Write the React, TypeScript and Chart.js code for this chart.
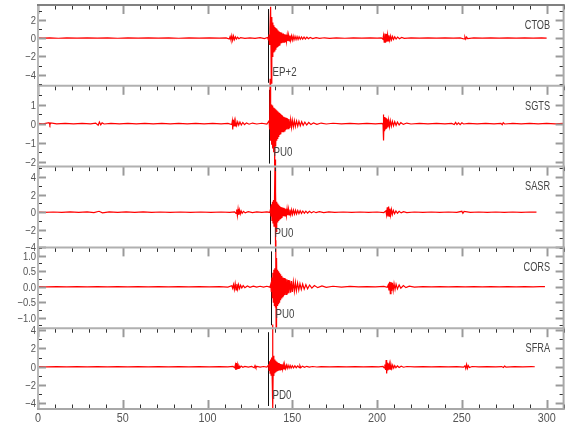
import { useEffect, useRef } from "react";
import { Chart, registerables } from "chart.js";

Chart.register(...registerables);

// ---------- data ----------
const stations = ["CTOB", "SGTS", "SASR", "CORS", "SFRA"];
const pickLabels = ["EP+2", "PU0", "PU0", "PU0", "PD0"];
const pickTimes = [135.8, 136.2, 136.8, 137.2, 135.8];
const yMins = [-5.2, -2.25, -4.02, -1.34, -4.6];
const yMaxs = [3.6, 1.98, 5.2, 1.27, 4.2];
const yMajorSteps = [2, 1, 2, 0.5, 2];
const xTickLabels = ["0", "50", "100", "150", "200", "250", "300"];
const xTickValues = [0, 50, 100, 150, 200, 250, 300];
const xMin = 0;
const xMax = 310;

const ctob: [number, number][] = [
  [0, 0.01], [3, -0.015], [7, 0.015], [12, -0.02], [17, 0.015], [23, -0.015], [29, 0.02], [35, -0.015], [41, 0.015], [47, -0.02],
  [53, 0.015], [59, -0.015], [65, 0.02], [71, -0.015], [77, 0.015], [83, -0.02], [89, 0.015], [95, -0.015], [101, 0.02], [107, -0.015], [111, 0.02],
  [112.8, -0.1], [113.3, 0.16], [113.8, -0.22], [114.3, 0.27], [114.8, -0.25], [115.3, 0.22], [115.8, -0.18], [116.4, 0.14], [117, -0.11],
  [117.7, 0.09], [118.5, -0.07], [119.5, 0.05], [122, -0.03], [125, 0.03], [128, -0.03], [131, 0.04], [133.5, -0.05], [135.4, 0.06],
  [135.9, -0.2], [136.2, 0.4], [136.5, -0.7], [136.8, 1.0], [137.2, 3.4], [137.6, -4.9], [137.9, 2.3], [138.2, -2.0], [138.5, 1.7],
  [138.8, -1.5], [139.1, 1.4], [139.4, -1.4], [139.7, 1.2], [140.0, -1.2], [140.3, 1.1], [140.6, -1.0], [140.9, 1.0], [141.2, -0.9],
  [141.5, 0.85], [141.8, -0.8], [142.1, 0.75], [142.4, -0.75], [142.7, 0.65], [143.0, -0.6], [143.35, 0.6], [143.7, -0.55], [144.05, 0.5],
  [144.4, -0.5], [144.75, 0.48], [145.1, -0.45], [145.45, 0.42], [145.8, -0.4], [146.2, 0.38], [146.6, -0.36], [147.0, 0.34], [147.4, -0.32],
  [147.8, 0.3], [148.2, -0.3], [148.6, 0.27], [149.0, -0.26], [149.5, 0.24], [150.0, -0.22], [150.5, 0.21], [151.0, -0.2], [151.6, 0.18],
  [152.2, -0.17], [152.8, 0.16], [153.4, -0.15], [154.0, 0.14], [154.7, -0.13], [155.4, 0.12], [156.1, -0.11], [156.9, 0.1], [157.7, -0.1],
  [158.6, 0.09], [159.5, -0.08], [160.5, 0.07], [162, -0.06], [164, 0.05], [166, -0.04], [169, 0.03], [172, -0.025], [176, 0.02], [181, -0.02],
  [186, 0.015], [191, -0.015], [196, 0.015], [200, -0.015], [202.5, 0.03],
  [203.4, -0.12], [203.8, 0.3], [204.2, -0.45], [204.6, 0.5], [205.0, -0.5], [205.4, 0.45], [205.8, -0.4], [206.2, 0.36], [206.6, -0.32],
  [207.0, 0.3], [207.5, -0.26], [208.0, 0.22], [208.5, -0.2], [209.1, 0.17], [209.7, -0.15], [210.4, 0.13], [211.2, -0.11], [212.1, 0.1],
  [213.2, -0.08], [214.5, 0.06], [216, -0.04], [220, 0.02], [225, -0.015], [230, 0.015], [235, -0.015], [240, 0.015], [245, -0.015], [249, 0.02],
  [251.3, -0.1], [251.8, 0.13], [252.3, -0.12], [252.8, 0.1], [253.4, -0.07], [257, 0.02], [262, -0.015], [267, 0.015], [272, -0.015],
  [277, 0.015], [282, -0.015], [287, 0.015], [292, -0.015], [297, 0.015], [300, 0],
];

const sgts: [number, number][] = [
  [0, 0.01], [3, -0.01], [6.5, 0.05], [7, -0.07], [7.5, 0.04], [11, -0.01], [16, 0.01], [21, -0.01], [26, 0.01], [31, -0.01], [34, 0.03],
  [35.5, -0.08], [36.2, 0.08], [37, -0.06], [37.8, 0.04], [39, -0.02], [43, 0.01], [48, -0.01], [53, 0.01], [58, -0.01], [63, 0.01],
  [68, -0.01], [73, 0.01], [78, -0.01], [83, 0.01], [88, -0.01], [93, 0.01], [98, -0.01], [103, 0.01], [108, -0.01], [112, 0.01],
  [114.3, -0.05], [114.6, 0.12], [114.85, -0.3], [115.1, 0.2], [115.4, -0.15], [115.8, 0.14], [116.2, -0.12], [116.7, 0.11], [117.2, -0.1],
  [117.8, 0.09], [118.4, -0.08], [119.1, 0.08], [119.9, -0.07], [120.8, 0.06], [121.8, -0.05], [123, 0.04], [124.5, -0.03], [126.5, 0.03],
  [129, -0.02], [132, 0.02], [135, -0.02],
  [136.3, 0.15], [136.6, -0.3], [136.9, 2.35], [137.2, -0.9], [137.5, 1.0], [137.8, -1.1], [138.1, 0.95], [138.4, -1.3], [138.7, 0.85],
  [139.0, -1.5], [139.3, 0.8], [139.6, -2.2], [139.9, 0.75], [140.2, -1.2], [140.5, 0.7], [140.8, -0.9], [141.1, 0.65], [141.4, -0.8],
  [141.7, 0.6], [142.0, -0.7], [142.3, 0.55], [142.6, -0.6], [142.9, 0.5], [143.2, -0.55], [143.55, 0.45], [143.9, -0.45], [144.25, 0.4],
  [144.6, -0.42], [144.95, 0.36], [145.3, -0.38], [145.65, 0.33], [146.0, -0.33], [146.4, 0.3], [146.8, -0.3], [147.2, 0.27], [147.6, -0.26],
  [148.0, 0.24], [148.5, -0.23], [149.0, 0.21], [149.5, -0.2], [150.0, 0.18], [150.6, -0.17], [151.2, 0.16], [151.8, -0.15], [152.5, 0.14],
  [153.2, -0.13], [153.9, 0.12], [154.7, -0.11], [155.5, 0.1], [156.4, -0.09], [157.4, 0.08], [158.5, -0.07], [159.7, 0.06], [161, -0.05],
  [162.5, 0.04], [164.5, -0.04], [167, 0.03], [170, -0.02], [174, 0.02], [179, -0.01], [184, 0.01], [189, -0.01], [194, 0.01], [199, -0.01],
  [203, 0.01],
  [203.5, -0.05], [203.7, 0.48], [203.9, -0.88], [204.15, 0.35], [204.4, -0.4], [204.7, 0.32], [205.0, -0.3], [205.3, 0.28], [205.6, -0.26],
  [206.0, 0.22], [206.4, -0.2], [206.8, 0.18], [207.3, -0.16], [207.8, 0.15], [208.4, -0.13], [209.0, 0.12], [209.7, -0.11], [210.4, 0.1],
  [211.2, -0.09], [212.0, 0.08], [213.0, -0.07], [214, 0.05], [215.5, -0.04], [217.5, 0.03], [220, -0.02], [225, 0.01], [230, -0.01],
  [235, 0.01], [240, -0.01], [244, 0.01], [245.5, -0.05], [246.3, 0.06], [247.1, -0.05], [248, 0.04], [249, -0.05], [250, 0.04], [251, -0.02],
  [254, 0.01], [259, -0.01], [264, 0.01], [269, -0.01], [273, 0.01], [273.8, -0.06], [274.4, 0.05], [275.2, -0.02], [280, 0.01], [285, -0.01],
  [290, 0.01], [295, -0.01], [300, 0.01], [305, -0.01], [310, 0.01],
];

const sasr: [number, number][] = [
  [0, 0.02], [4, -0.02], [9, 0.02], [14, -0.03], [19, 0.03], [24, -0.03], [29, 0.04], [33, -0.06], [36, 0.1], [38, -0.07], [42, 0.04],
  [47, -0.03], [52, 0.03], [57, -0.03], [62, 0.03], [67, -0.02], [72, 0.02], [78, -0.02], [84, 0.02], [90, -0.02], [96, 0.02], [102, -0.02],
  [108, 0.02], [113, -0.02], [116, 0.04],
  [116.8, -0.15], [117.2, 0.3], [117.6, -0.38], [118.0, 0.35], [118.4, -0.3], [118.8, 0.25], [119.3, -0.2], [119.8, 0.16], [120.4, -0.12],
  [121.2, 0.1], [122.2, -0.08], [124, 0.05], [126.5, -0.04], [129, 0.03], [132, -0.03], [135, 0.03], [136.8, -0.03],
  [137.1, 0.3], [137.4, -0.5], [137.7, 0.9], [138.0, -1.0], [138.3, 1.2], [138.6, -1.3], [138.9, 1.4], [139.2, -1.6], [139.5, 1.7],
  [139.8, 6.0], [140.0, -4.1], [140.2, 2.35], [140.5, -2.2], [140.8, 1.2], [141.1, -1.1], [141.4, 1.0], [141.7, -0.95], [142.0, 0.85],
  [142.3, -0.8], [142.6, 0.7], [142.9, -0.7], [143.2, 0.6], [143.55, -0.6], [143.9, 0.55], [144.25, -0.5], [144.6, 0.5], [144.95, -0.45],
  [145.3, 0.45], [145.7, -0.42], [146.1, 0.4], [146.5, -0.38], [146.9, 0.36], [147.3, -0.35], [147.7, 0.33], [148.1, -0.32], [148.6, 0.3],
  [149.1, -0.28], [149.6, 0.27], [150.1, -0.25], [150.7, 0.24], [151.3, -0.22], [151.9, 0.21], [152.5, -0.2], [153.2, 0.18], [153.9, -0.17],
  [154.6, 0.16], [155.4, -0.14], [156.2, 0.13], [157.1, -0.12], [158, 0.11], [159, -0.1], [160.1, 0.09], [161.3, -0.08], [162.6, 0.07],
  [164, -0.06], [166, 0.05], [168.5, -0.04], [171.5, 0.03], [175, -0.03], [180, 0.02], [185, -0.02], [190, 0.02], [195, -0.02], [200, 0.02],
  [204, -0.04],
  [205.2, 0.15], [205.6, -0.3], [206.0, 0.55], [206.4, -0.5], [206.8, 0.64], [207.2, -0.45], [207.6, 0.4], [208.0, -0.35], [208.5, 0.3],
  [209.0, -0.25], [209.6, 0.2], [210.3, -0.17], [211.1, 0.14], [212, -0.12], [213, 0.1], [214.2, -0.08], [215.6, 0.06], [217.5, -0.04],
  [222, 0.02], [227, -0.02], [232, 0.02], [237, -0.02], [242, 0.02], [247, -0.03], [250, 0.1], [250.6, -0.12], [251.3, 0.08], [255, -0.02],
  [260, 0.02], [265, -0.02], [270, 0.02], [275, -0.02], [280, 0.02], [285, -0.02], [290, 0.02], [294, 0],
];

const cors: [number, number][] = [
  [0, 0.004], [5, -0.006], [11, 0.006], [17, -0.006], [23, 0.006], [29, -0.006], [35, 0.006], [41, -0.006], [47, 0.006], [53, -0.006],
  [59, 0.006], [65, -0.006], [71, 0.006], [77, -0.006], [83, 0.006], [89, -0.006], [95, 0.006], [101, -0.006], [107, 0.006], [112, -0.01],
  [114.3, 0.03], [114.8, -0.05], [115.3, 0.07], [115.8, -0.09], [116.3, 0.1], [116.8, -0.1], [117.3, 0.09], [117.8, -0.08], [118.3, 0.07],
  [118.9, -0.06], [119.5, 0.05], [120.2, -0.04], [121, 0.035], [122, -0.03], [123.5, 0.025], [125, -0.02], [127, 0.02], [129, -0.015],
  [131, 0.015], [133, -0.015], [135, 0.015], [136.8, -0.015],
  [137.3, 0.08], [137.6, -0.15], [137.9, 0.3], [138.2, -0.35], [138.5, 0.45], [138.8, -0.5], [139.1, 0.55], [139.4, -0.6], [139.7, 0.6],
  [140.0, -0.65], [140.25, 1.5], [140.45, -1.32], [140.7, 0.93], [141.0, -0.6], [141.3, 0.55], [141.6, -0.55], [141.9, 0.5], [142.2, -0.5],
  [142.5, 0.45], [142.8, -0.42], [143.1, 0.4], [143.45, -0.36], [143.8, 0.35], [144.15, -0.32], [144.5, 0.3], [144.85, -0.3], [145.2, 0.28],
  [145.6, -0.27], [146.0, 0.26], [146.4, -0.25], [146.8, 0.24], [147.2, -0.23], [147.6, 0.22], [148.0, -0.21], [148.5, 0.2], [149.0, -0.19],
  [149.5, 0.18], [150.0, -0.17], [150.6, 0.16], [151.2, -0.15], [151.8, 0.14], [152.4, -0.13], [153.1, 0.12], [153.8, -0.11], [154.5, 0.1],
  [155.3, -0.09], [156.1, 0.085], [157, -0.08], [158, 0.07], [159, -0.065], [160.2, 0.055], [161.5, -0.045], [163, 0.04], [165, -0.03],
  [167.5, 0.025], [170, -0.02], [174, 0.015], [179, -0.01], [184, 0.008], [189, -0.006], [194, 0.006], [199, -0.006], [204, 0.008], [206, -0.02],
  [206.6, 0.06], [207.0, -0.12], [207.4, 0.16], [207.8, -0.22], [208.2, 0.15], [208.6, -0.14], [209.0, 0.13], [209.5, -0.12], [210.0, 0.1],
  [210.6, -0.09], [211.2, 0.08], [212, -0.07], [213, 0.06], [214, -0.05], [215.5, 0.04], [217, -0.03], [219, 0.02], [222, -0.01],
  [227, 0.006], [232, -0.006], [237, 0.006], [242, -0.006], [247, 0.006], [252, -0.006], [257, 0.006], [262, -0.006], [267, 0.006], [272, -0.006],
  [277, 0.006], [282, -0.006], [287, 0.006], [292, -0.006], [296, 0.006], [299, 0],
];

const sfra: [number, number][] = [
  [0, 0.01], [5, -0.015], [11, 0.015], [17, -0.015], [23, 0.015], [29, -0.015], [35, 0.015], [41, -0.015], [47, 0.015], [53, -0.015], [59, 0.015],
  [65, -0.015], [71, 0.015], [77, -0.015], [83, 0.015], [89, -0.015], [95, 0.015], [101, -0.015], [107, 0.015], [112, -0.015], [115, 0.03],
  [116, -0.1], [116.4, 0.2], [116.7, -0.35], [117.0, 0.4], [117.3, -0.3], [117.6, 0.22], [118, -0.18], [118.5, 0.14], [119.1, -0.1],
  [119.8, 0.08], [120.8, -0.06], [122, 0.04], [124, -0.03], [126, 0.03], [127.5, -0.1], [128, 0.12], [128.5, -0.1], [129.2, 0.05],
  [131, -0.03], [133, 0.03], [135, -0.03],
  [136.0, 0.2], [136.3, -0.4], [136.6, 0.6], [136.9, -0.7], [137.2, 0.8], [137.5, -0.9], [137.8, 1.0], [138.1, -1.0], [138.35, 4.6],
  [138.55, -4.5], [138.8, 1.2], [139.1, -1.0], [139.4, 0.8], [139.7, -0.7], [140.0, 0.65], [140.3, -0.6], [140.6, 0.55], [140.9, -0.5],
  [141.2, 0.45], [141.5, -0.45], [141.8, 0.4], [142.1, -0.4], [142.45, 0.35], [142.8, -0.33], [143.15, 0.3], [143.5, -0.3], [143.9, 0.27],
  [144.3, -0.25], [144.7, 0.24], [145.1, -0.22], [145.5, 0.21], [146, -0.2], [146.5, 0.18], [147, -0.17], [147.5, 0.16], [148.1, -0.15],
  [148.7, 0.14], [149.3, -0.13], [150, 0.12], [150.7, -0.11], [151.5, 0.1], [152.3, -0.1], [153.2, 0.09], [154.1, -0.09], [154.5, 0.12],
  [155, -0.1], [156, 0.07], [157.2, -0.06], [158.5, 0.05], [160, -0.04], [162, 0.03], [164.5, -0.025], [167, 0.02], [172, -0.015], [177, 0.015],
  [182, -0.015], [187, 0.015], [192, -0.015], [197, 0.015], [201, -0.015], [203.5, 0.03],
  [204.2, -0.12], [204.6, 0.25], [205.0, -0.35], [205.35, 0.73], [205.65, -0.73], [205.95, 0.45], [206.3, -0.4], [206.65, 0.35], [207.0, -0.32],
  [207.4, 0.3], [207.8, -0.27], [208.2, 0.24], [208.7, -0.2], [209.2, 0.18], [209.8, -0.15], [210.4, 0.12], [211.1, -0.1], [212, 0.09],
  [213, -0.08], [214.2, 0.06], [215.6, -0.05], [217.5, 0.03], [222, -0.015], [227, 0.015], [232, -0.015], [237, 0.015], [242, -0.015], [247, 0.015],
  [251, -0.04], [251.8, 0.1], [252.3, -0.2], [252.8, 0.25], [253.3, -0.18], [253.8, 0.12], [254.5, -0.08], [256, 0.03], [260, -0.015],
  [265, 0.015], [270, -0.015], [273.5, 0.02], [274.5, -0.08], [275.2, 0.07], [276, -0.03], [281, 0.015], [286, -0.015], [291, 0.015], [293, 0],
];

const traces = [ctob, sgts, sasr, cors, sfra];

// ---------- layout / style ----------
const W = 580;
const H = 440;
const PLOT_LEFT = 38;
const PLOT_RIGHT = 563.6;
const PLOT_TOP = 5;
const PLOT_BOTTOM = 409;
const PANEL_H = (PLOT_BOTTOM - PLOT_TOP) / stations.length;
const FONT = '"Liberation Sans", Arial, sans-serif';
const TEXT_COLOR = "#555";

function drawText(
  ctx: CanvasRenderingContext2D,
  s: string,
  x: number,
  y: number,
  align: CanvasTextAlign,
  size: number,
  sx: number,
  color: string
) {
  ctx.save();
  ctx.font = `${size}px ${FONT}`;
  ctx.fillStyle = color;
  ctx.textAlign = align;
  ctx.textBaseline = "middle";
  ctx.translate(x, y);
  ctx.scale(sx, 1);
  ctx.fillText(s, 0, 0);
  ctx.restore();
}

function seg(ctx: CanvasRenderingContext2D, x1: number, y1: number, x2: number, y2: number, color: string, w: number) {
  ctx.strokeStyle = color;
  ctx.lineWidth = w;
  ctx.beginPath();
  ctx.moveTo(x1, y1);
  ctx.lineTo(x2, y2);
  ctx.stroke();
}

function fmt(v: number, step: number) {
  const s = step < 1 ? Math.abs(v).toFixed(1) : String(Math.abs(Math.round(v)));
  return (v < -1e-9 ? "\u2212" : "") + s;
}

function panelPlugin(i: number) {
  return {
    id: "panel" + i,
    beforeDatasetsDraw(chart: any) {
      const ctx: CanvasRenderingContext2D = chart.ctx;
      const xs = chart.scales.x;
      const { top, bottom } = chart.chartArea;
      const px = Math.round(xs.getPixelForValue(pickTimes[i])) + 0.5;
      ctx.save();
      seg(ctx, px, top + 4, px, bottom - 3, "#111", 1);
      ctx.restore();
    },
    afterDraw(chart: any) {
      const ctx: CanvasRenderingContext2D = chart.ctx;
      const xs = chart.scales.x;
      const ys = chart.scales.y;
      const { left, right, top, bottom } = chart.chartArea;
      ctx.save();
      const last = i === stations.length - 1;

      // x ticks (top of each panel, bottom of the last one)
      for (let t = xMin; t <= xMax + 1e-6; t += 10) {
        const x = Math.round(xs.getPixelForValue(t)) + 0.5;
        const major = Math.abs(t % 50) < 1e-6;
        const len = major ? 9 : 4.5;
        const col = major ? "#9a9a9a" : "#333";
        const w = major ? 2 : 1;
        seg(ctx, x, top, x, top + len, col, w);
        if (last) seg(ctx, x, bottom, x, bottom - len, col, w);
      }

      // y ticks (left and right)
      const yStep = yMajorSteps[i];
      const minor = yStep / 2;
      const start = Math.ceil((ys.min - 1e-9) / minor) * minor;
      for (let v = start; v <= ys.max + 1e-9; v += minor) {
        const y = Math.round(ys.getPixelForValue(v)) + 0.5;
        const k = v / yStep;
        const major = Math.abs(k - Math.round(k)) < 1e-6;
        const len = major ? 8 : 4;
        const col = major ? "#9a9a9a" : "#333";
        seg(ctx, left, y, left + len, y, col, major ? 2 : 1);
        seg(ctx, right, y, right - len, y, col, major ? 2 : 1);
        if (major) drawText(ctx, fmt(v, yStep), left - 2, y, "right", 11.5, 0.82, TEXT_COLOR);
      }

      // frame
      seg(ctx, left, top - 1, left, bottom + 1, "#b8b8b8", 2);
      seg(ctx, right, top - 1, right, bottom + 1, "#a8a8a8", 2);
      seg(ctx, left - 1, top, right + 1, top, i === 0 ? "#808080" : "#b0b0b0", 2);
      if (last) {
        seg(ctx, left - 1, bottom, right + 1, bottom, "#a8a8a8", 2);
        xTickValues.forEach((v, k) => {
          drawText(ctx, xTickLabels[k], xs.getPixelForValue(v), bottom + 9.5, "center", 12, 0.9, TEXT_COLOR);
        });
      }

      // pick label
      const px = Math.round(xs.getPixelForValue(pickTimes[i])) + 0.5;
      drawText(ctx, pickLabels[i], px + 4, bottom - 14, "left", 13.5, 0.72, "#444");
      // station name
      drawText(ctx, stations[i], right - 13.5, top + 20, "right", 13.5, 0.68, "#444");
      ctx.restore();
    },
  };
}

function makeConfig(i: number): any {
  const top = PLOT_TOP + i * PANEL_H;
  const bottom = top + PANEL_H;
  return {
    type: "line",
    data: {
      datasets: [
        {
          data: traces[i].map(([x, y]) => ({ x, y })),
          borderColor: "#ff0000",
          borderWidth: 1.2,
          pointRadius: 0,
          tension: 0,
          fill: false,
          clip: false,
        },
      ],
    },
    options: {
      animation: false,
      responsive: false,
      events: [],
      layout: { padding: { left: PLOT_LEFT, right: W - PLOT_RIGHT, top, bottom: H - bottom } },
      plugins: { legend: { display: false }, tooltip: { enabled: false } },
      scales: {
        x: { type: "linear", min: xMin, max: xMax, display: false },
        y: { type: "linear", min: yMins[i], max: yMaxs[i], display: false },
      },
    },
    plugins: [panelPlugin(i)],
  };
}

export default function App() {
  const refs = useRef<(HTMLCanvasElement | null)[]>([]);
  useEffect(() => {
    const charts = stations.map((_, i) => new Chart(refs.current[i] as HTMLCanvasElement, makeConfig(i)));
    return () => charts.forEach((c) => c.destroy());
  }, []);
  return (
    <div style={{ position: "absolute", left: 0, top: 0, width: W, height: H, background: "#fff" }}>
      {stations.map((s, i) => (
        <canvas
          key={s}
          ref={(el) => {
            refs.current[i] = el;
          }}
          width={W}
          height={H}
          style={{ position: "absolute", left: 0, top: 0, width: W, height: H }}
        />
      ))}
    </div>
  );
}
